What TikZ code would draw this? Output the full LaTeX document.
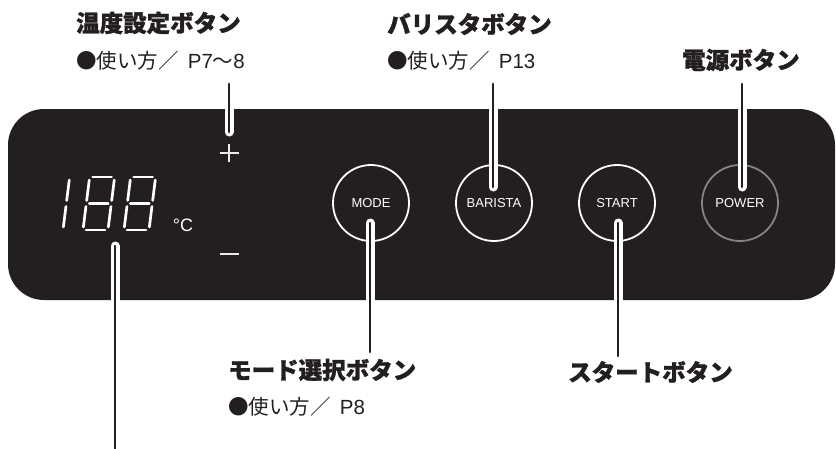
\documentclass[tikz,border=0pt]{standalone}
\usepackage{fontspec}
\setmainfont{Liberation Sans}
\newfontfamily\jp{Noto Sans CJK JP}
\newfontfamily\jph{Noto Sans CJK JP}[BoldFeatures={FakeBold=1.2}]
\newfontfamily\lat{Liberation Sans}
\definecolor{ink}{HTML}{231F20}
\definecolor{pwr}{HTML}{858585}
\tikzset{
  panel/.style={fill=ink, rounded corners=36pt},
  btn/.style={circle, draw=white, line width=1.8pt, minimum size=76pt, inner sep=0pt, text=white, font=\fontsize{13}{15}\selectfont},
  pbtn/.style={btn, draw=pwr},
  leader/.style={draw=ink, line width=2.8pt, line cap=round,
     preaction={draw=white, line width=9pt, line cap=round}},
  head/.style={anchor=west, inner sep=0pt, text=ink, font=\jph\bfseries\fontsize{23.5}{26}\selectfont},
  sub/.style={anchor=west, inner sep=0pt, text=ink, font=\jp\fontsize{20.5}{22}\selectfont},
  seg/.style={draw=white, line width=2.7pt, line cap=round},
  sign/.style={draw=white!92!black},
}
\newcommand\segeight[2]{%
  \begin{scope}[shift={(#1,#2)}, y=1pt, xslant=0.125]
    \draw[seg] (3,53) -- (22,53);
    \draw[seg] (25,50) -- (25,29.5);
    \draw[seg] (25,23.5) -- (25,3);
    \draw[seg] (3,0) -- (22,0);
    \draw[seg] (0,3) -- (0,23.5);
    \draw[seg] (0,29.5) -- (0,50);
    \draw[seg] (3,26.5) -- (22,26.5);
  \end{scope}}
\newcommand\segone[2]{%
  \begin{scope}[shift={(#1,#2)}, y=1pt, xslant=0.125]
    \draw[seg] (25,50) -- (25,29.5);
    \draw[seg] (25,23.5) -- (25,3);
  \end{scope}}
\newcommand\gapP{\hspace{0.45em}}
\begin{document}
\begin{tikzpicture}[x=1pt, y=-1pt]
\useasboundingbox (0,0) rectangle (836,448);
% panel
\fill[panel] (8,109) rectangle (835,300);
% display
\segone{38}{230}
\segeight{83}{230}
\segeight{124}{230}
\node[text=white, inner sep=0pt, font=\fontsize{18}{20}\selectfont] (unit) at (183,225) {°C};
% plus / minus
\draw[sign, line width=1.3pt] (219.5,153) -- (238.5,153);
\draw[sign, line width=1.3pt] (229,144) -- (229,162);
\draw[sign, line width=2pt] (220,254) -- (239,254);
% buttons
\node[btn] (mode) at (371,203) {MODE};
\node[btn] (barista) at (494,203) {BARISTA};
\node[btn] (start) at (617,203) {START};
\node[pbtn] (power) at (740,203) {POWER};
% labels
\node[head] (tempH) at (76,23) {温度設定ボタン};
\node[sub] (tempS) at (76,61) {●使い方／\gapP{\lat P7}〜{\lat 8}};
\node[head] (barH) at (387,24) {バリスタボタン};
\node[sub] (barS) at (387,61) {●使い方／\gapP{\lat P13}};
\node[head] (powH) at (682,60) {電源ボタン};
\node[head] (modeH) at (228,370) {モード選択ボタン};
\node[sub] (modeS) at (228,407) {●使い方／\gapP{\lat P8}};
\node[head] (startH) at (568,372) {スタートボタン};
% leader end points
\coordinate (tT) at (229,84);  \coordinate (tE) at (229,132);
\coordinate (bT) at (493,84);  \coordinate (bE) at (493,187);
\coordinate (pT) at (742,84);  \coordinate (pE) at (742,187);
\coordinate (dE) at (115,246); \coordinate (dB) at (115,449);
\coordinate (mE) at (370,223); \coordinate (mB) at (370,352);
\coordinate (sE) at (618,223); \coordinate (sB) at (618,356);
\draw[leader] (tT) -- (tE);
\draw[leader] (bT) -- (bE);
\draw[leader] (pT) -- (pE);
\draw[leader] (dB) -- (dE);
\draw[leader] (mB) -- (mE);
\draw[leader] (sB) -- (sE);
\end{tikzpicture}
\end{document}
